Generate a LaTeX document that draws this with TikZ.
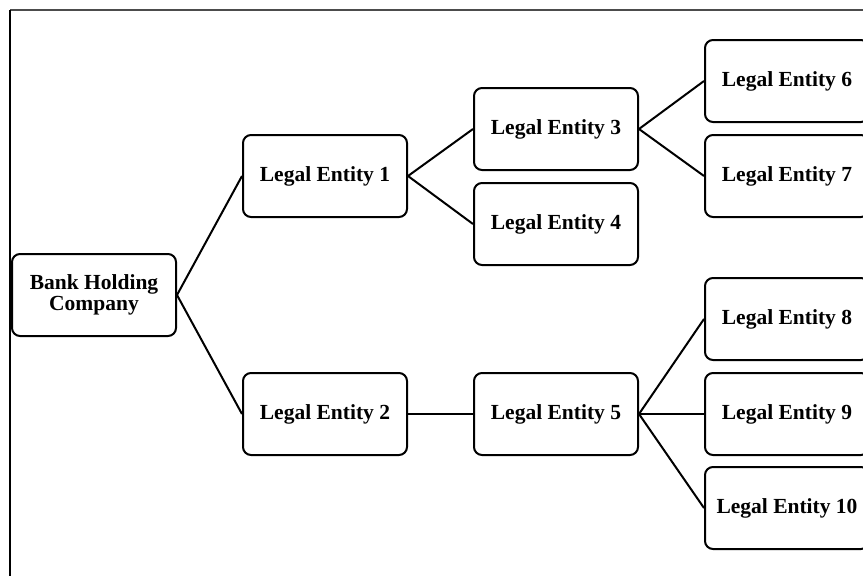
\documentclass[tikz,border=0pt]{standalone}
\usepackage{fontspec}
\setmainfont{Liberation Serif}
\begin{document}
\begin{tikzpicture}[x=1pt,y=-1pt,
  entbox/.style={draw=black,line width=2pt,rounded corners=8pt,minimum width=164pt,minimum height=82pt,inner sep=0pt,align=center,font=\fontsize{21.5}{21.5}\selectfont\bfseries},
  link/.style={draw=black,line width=2pt}]
\useasboundingbox (0,0) rectangle (863,576);
\clip (0,0) rectangle (863,576);
\fill[white] (0,0) rectangle (863,576);
\draw[line width=2.2pt,black!70] (10,10) -- (863,10);
\draw[line width=2.2pt,black] (10,10) -- (10,576);
\node[entbox] (bhc) at (94,295) {Bank Holding\\Company};
\node[entbox] (le1) at (325,176) {Legal Entity 1};
\node[entbox] (le2) at (325,414) {Legal Entity 2};
\node[entbox] (le3) at (556,129) {Legal Entity 3};
\node[entbox] (le4) at (556,224) {Legal Entity 4};
\node[entbox] (le5) at (556,414) {Legal Entity 5};
\node[entbox] (le6) at (787,81) {Legal Entity 6};
\node[entbox] (le7) at (787,176) {Legal Entity 7};
\node[entbox] (le8) at (787,319) {Legal Entity 8};
\node[entbox] (le9) at (787,414) {Legal Entity 9};
\node[entbox] (le10) at (787,508) {Legal Entity 10};
\draw[link] (bhc.east) -- (le1.west);
\draw[link] (bhc.east) -- (le2.west);
\draw[link] (le1.east) -- (le3.west);
\draw[link] (le1.east) -- (le4.west);
\draw[link] (le3.east) -- (le6.west);
\draw[link] (le3.east) -- (le7.west);
\draw[link] (le2.east) -- (le5.west);
\draw[link] (le5.east) -- (le8.west);
\draw[link] (le5.east) -- (le9.west);
\draw[link] (le5.east) -- (le10.west);
\end{tikzpicture}
\end{document}
